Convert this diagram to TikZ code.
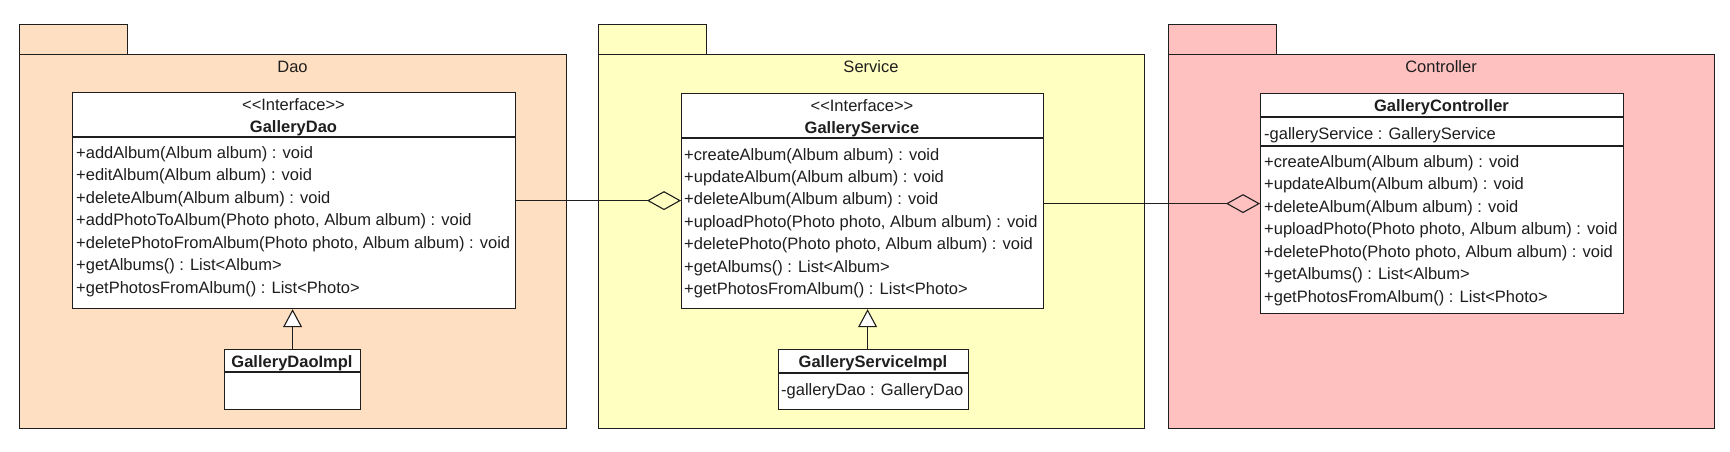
\documentclass[tikz,border=0pt]{standalone}
\usepackage{fontspec}
\setmainfont{Liberation Sans}
\usetikzlibrary{arrows.meta}
\definecolor{daocol}{RGB}{255,223,193}
\definecolor{servcol}{RGB}{255,255,194}
\definecolor{ctrlcol}{RGB}{255,192,192}
\definecolor{ink}{RGB}{30,30,30}
\tikzset{
  pkgshape/.style={draw=ink, line width=1.2pt, inner sep=0pt, anchor=north west},
  classbox/.style={draw=ink, fill=white, line width=1.2pt, inner sep=0pt, anchor=north west},
  txt/.style={inner sep=0pt, anchor=base west, font=\fontsize{16.5}{19}\selectfont, text=ink},
  ctxt/.style={txt, anchor=base},
  btxt/.style={ctxt, font=\fontsize{16.5}{19}\selectfont\bfseries},
  conn/.style={draw=ink, line width=1.1pt},
  aggr/.style={conn, -{Diamond[open, length=34pt, width=19pt]}},
  gen/.style={conn, -{Triangle[open, fill=white, length=18pt, width=19pt]}}
}
\begin{document}
\begin{tikzpicture}[x=1pt, y=1pt]
\useasboundingbox (0,0) rectangle (1730,-451);
% ---------- packages ----------
\node[pkgshape, fill=daocol, minimum width=108pt, minimum height=30pt] (daotab) at (19,-24) {};
\node[pkgshape, fill=daocol, minimum width=547pt, minimum height=374pt] (daopkg) at (19,-54) {};
\node[ctxt] (daolbl) at (292.5,-72) {Dao};

\node[pkgshape, fill=servcol, minimum width=108pt, minimum height=30pt] (servtab) at (598,-24) {};
\node[pkgshape, fill=servcol, minimum width=546pt, minimum height=374pt] (servpkg) at (598,-54) {};
\node[ctxt] (servlbl) at (871,-72) {Service};

\node[pkgshape, fill=ctrlcol, minimum width=108pt, minimum height=30pt] (ctrltab) at (1168,-24) {};
\node[pkgshape, fill=ctrlcol, minimum width=546pt, minimum height=374pt] (ctrlpkg) at (1168,-54) {};
\node[ctxt] (ctrllbl) at (1441,-72) {Controller};

% ---------- GalleryDao ----------
\node[classbox, minimum width=443pt, minimum height=216pt] (daobox) at (72,-92) {};
\draw[conn] (daobox.west |- 0,-137) -- (daobox.east |- 0,-137);
\node[ctxt] (daoster) at (293.5,-110) {\mbox{<}\mbox{<}Interface\mbox{>}\mbox{>}};
\node[btxt] (daoname) at (293.5,-132) {GalleryDao};
\foreach \m [count=\i] in {
  {+addAlbum(Album album) : void},
  {+editAlbum(Album album) : void},
  {+deleteAlbum(Album album) : void},
  {+addPhotoToAlbum(Photo photo, Album album) : void},
  {+deletePhotoFromAlbum(Photo photo, Album album) : void},
  {+getAlbums() : List<Album>},
  {+getPhotosFromAlbum() : List<Photo>}}
  \node[txt] (dm\i) at (76,{-158-22.5*(\i-1)}) {\m};

% ---------- GalleryDaoImpl ----------
\node[classbox, minimum width=136pt, minimum height=60pt] (daoimpl) at (224,-349) {};
\draw[conn] (daoimpl.west |- 0,-372) -- (daoimpl.east |- 0,-372);
\node[btxt] (daoimplname) at (292,-367) {GalleryDaoImpl};

% ---------- GalleryService ----------
\node[classbox, minimum width=362pt, minimum height=215pt] (servbox) at (681,-93) {};
\draw[conn] (servbox.west |- 0,-138) -- (servbox.east |- 0,-138);
\node[ctxt] (servster) at (862,-111) {\mbox{<}\mbox{<}Interface\mbox{>}\mbox{>}};
\node[btxt] (servname) at (862,-133) {GalleryService};
\foreach \m [count=\i] in {
  {+createAlbum(Album album) : void},
  {+updateAlbum(Album album) : void},
  {+deleteAlbum(Album album) : void},
  {+uploadPhoto(Photo photo, Album album) : void},
  {+deletePhoto(Photo photo, Album album) : void},
  {+getAlbums() : List<Album>},
  {+getPhotosFromAlbum() : List<Photo>}}
  \node[txt] (sm\i) at (684,{-160-22.4*(\i-1)}) {\m};

% ---------- GalleryServiceImpl ----------
\node[classbox, minimum width=190pt, minimum height=60pt] (servimpl) at (778,-349) {};
\draw[conn] (servimpl.west |- 0,-373) -- (servimpl.east |- 0,-373);
\node[btxt] (servimplname) at (873,-367) {GalleryServiceImpl};
\node[txt] (servimplattr) at (781,-395) {-galleryDao : GalleryDao};

% ---------- GalleryController ----------
\node[classbox, minimum width=363pt, minimum height=220pt] (ctrlbox) at (1260,-93) {};
\draw[conn] (ctrlbox.west |- 0,-117) -- (ctrlbox.east |- 0,-117);
\draw[conn] (ctrlbox.west |- 0,-146) -- (ctrlbox.east |- 0,-146);
\node[btxt] (ctrlname) at (1441.5,-111) {GalleryController};
\node[txt] (ctrlattr) at (1264,-139) {-galleryService : GalleryService};
\foreach \m [count=\i] in {
  {+createAlbum(Album album) : void},
  {+updateAlbum(Album album) : void},
  {+deleteAlbum(Album album) : void},
  {+uploadPhoto(Photo photo, Album album) : void},
  {+deletePhoto(Photo photo, Album album) : void},
  {+getAlbums() : List<Album>},
  {+getPhotosFromAlbum() : List<Photo>}}
  \node[txt] (cm\i) at (1264,{-167-22.5*(\i-1)}) {\m};

% ---------- connectors ----------
\draw[aggr] (daobox.east) -- (daobox.east -| servbox.west);
\draw[aggr] (servbox.east |- ctrlbox.west) -- (ctrlbox.west);
\draw[gen] (daoimpl.north) -- (daoimpl.north |- daobox.south);
\draw[gen] ([xshift=-6pt]servimpl.north) -- ([xshift=-6pt]servimpl.north |- servbox.south);
\end{tikzpicture}
\end{document}
